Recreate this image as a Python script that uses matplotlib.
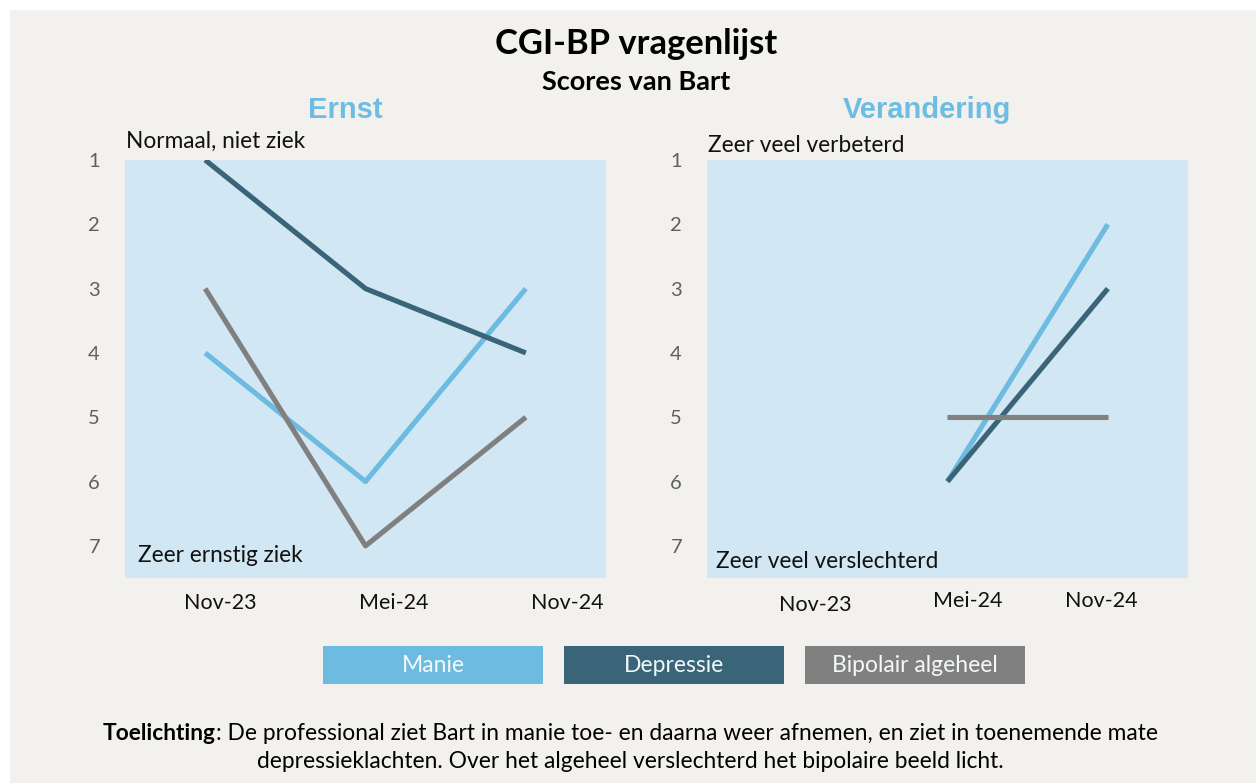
import numpy as np
import matplotlib
matplotlib.use("Agg")
import matplotlib.pyplot as plt
from matplotlib.patches import Rectangle

# data
dates = ["Nov-23", "Mei-24", "Nov-24"]
series = ["Manie", "Depressie", "Bipolair algeheel"]
ernst_manie = [4, 6, 3]
ernst_depressie = [1, 3, 4]
ernst_bipolair = [3, 7, 5]
ver_manie = [np.nan, 6, 2]
ver_depressie = [np.nan, 6, 3]
ver_bipolair = [np.nan, 5, 5]
yticks = [1, 2, 3, 4, 5, 6, 7]

colors = ["#6dbbe0", "#3a6477", "#808080"]
bg = "#f3f1ed"
panel = "#d1e8f4"
font = "Lato"

plt.rcParams['font.family'] = [font, 'DejaVu Sans']

W, H = 1256, 783
fig = plt.figure(figsize=(W / 100, H / 100), dpi=100, facecolor="white")
fig.patches.append(Rectangle((10 / W, 0), 1 - 10 / W, 1 - 10 / H, transform=fig.transFigure,
                             facecolor=bg, edgecolor="none", zorder=-10))

def px(x, y):
    return x / W, 1 - y / H

def make_panel(left, data, top_label, top_y, bottom_label, bottom_x, bottom_y, xlabel_pos):
    l, b = px(left, 578)
    ax = fig.add_axes([l, b, 481 / W, 418 / H])
    ax.set_facecolor(panel)
    for s in ax.spines.values():
        s.set_visible(False)
    x = np.arange(len(dates))
    for vals, c in zip(data, colors):
        ax.plot(x, vals, color=c, lw=3.7, solid_capstyle="butt")
    ax.set_xlim(-0.5, 2.5)
    ax.set_ylim(7.5, 1)
    ax.set_yticks(yticks)
    ax.set_yticklabels([str(t) for t in yticks])
    ax.tick_params(axis="y", length=0, pad=18, labelsize=14.5, labelcolor="#5f5f5f")
    ax.set_xticks([])
    for lab, (tx, ty) in zip(dates, xlabel_pos):
        fig.text(*px(tx, ty), lab, ha="center", va="center", fontsize=15.5, color="#111111")
    fig.text(*px(left + 1, top_y), top_label, ha="left", va="center", fontsize=16.3, color="#111111")
    fig.text(*px(bottom_x, bottom_y), bottom_label, ha="left", va="center", fontsize=16.3, color="#111111")
    return ax

make_panel(125, [ernst_manie, ernst_depressie, ernst_bipolair],
           "Normaal, niet ziek", 141, "Zeer ernstig ziek", 138, 556,
           [(220, 603), (394, 603), (567, 603)])
make_panel(707, [ver_manie, ver_depressie, ver_bipolair],
           "Zeer veel verbeterd", 146, "Zeer veel verslechterd", 716, 561,
           [(815, 605), (968, 601), (1101, 601)])

# titles
fig.text(*px(636, 44), "CGI-BP vragenlijst", ha="center", va="center",
         fontsize=24.8, fontweight="bold", color="black")
fig.text(*px(636, 82), "Scores van Bart", ha="center", va="center",
         fontsize=19.5, fontweight="bold", color="black")
fig.text(*px(345, 110), "Ernst", ha="center", va="center", fontsize=21,
         fontweight="bold", color="#6dbde2", family="Liberation Sans")
fig.text(*px(927, 110), "Verandering", ha="center", va="center", fontsize=21,
         fontweight="bold", color="#6dbde2", family="Liberation Sans")

# legend boxes
for i, (name, c) in enumerate(zip(series, colors)):
    x0 = 323 + i * 241
    fig.patches.append(Rectangle(px(x0, 684), 220 / W, 38 / H, transform=fig.transFigure,
                                 facecolor=c, edgecolor="none"))
    fig.text(*px(x0 + 110, 665), name, ha="center", va="center", fontsize=16.5, color="#f4f8fa")

# footnote: bold lead-in followed by normal text, line centred as a whole
renderer = fig.canvas.get_renderer()
t1 = fig.text(0, 0, "Toelichting", ha="left", va="center", fontsize=16.4,
              fontweight="bold", color="black")
t2 = fig.text(0, 0, ": De professional ziet Bart in manie toe- en daarna weer afnemen, en ziet in toenemende mate",
              ha="left", va="center", fontsize=16.4, color="black")
w1 = t1.get_window_extent(renderer).width
w2 = t2.get_window_extent(renderer).width
x_start = 630 - (w1 + w2) / 2
t1.set_position(px(x_start, 734))
t2.set_position(px(x_start + w1, 734))
fig.text(*px(630, 762), "depressieklachten. Over het algeheel verslechterd het bipolaire beeld licht.",
         ha="center", va="center", fontsize=16.4, color="black")

fig.savefig("out.png", dpi=100, facecolor="white")
